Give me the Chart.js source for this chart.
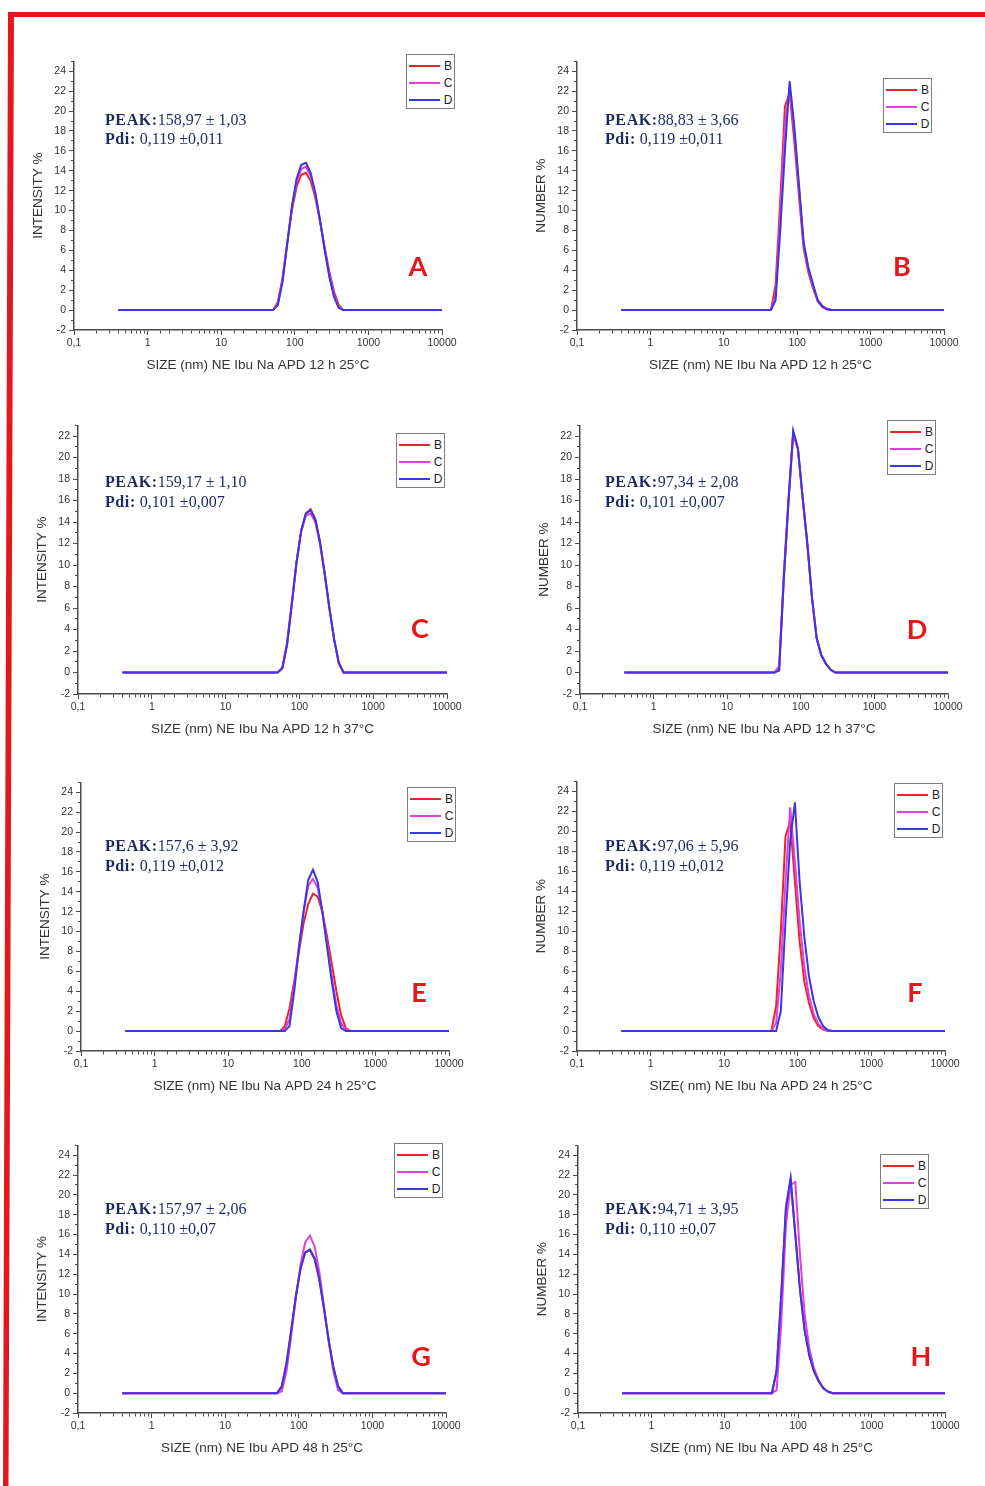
<!DOCTYPE html>
<html>
<head>
<meta charset="utf-8">
<script src="https://cdn.jsdelivr.net/npm/chart.js@4.4.0/dist/chart.umd.min.js"></script>
<style>
  html, body { margin:0; padding:0; background:#fff; }
  body { width:985px; height:1486px; position:relative; overflow:hidden; font-family:"Liberation Sans", Arial, sans-serif; }
  canvas { position:absolute; }
  .frame { position:absolute; left:0; top:0; }
  .peak { position:absolute; font-family:"Liberation Serif","Times New Roman",serif; color:#1a2a5e; font-size:16px; line-height:19.5px; white-space:nowrap; z-index:3; }
  .peak b { letter-spacing:0.6px; }
  .letter { position:absolute; color:#e5161c; font-family:Lato, "Open Sans", sans-serif; font-weight:700; font-size:27px; line-height:27px; transform:translate(-50%,-50%); z-index:3; }
  .legend { position:absolute; box-sizing:border-box; border:1.5px solid #7d7d7d; background:#fff; z-index:3; }
  .legend .ln { position:absolute; left:2px; width:31px; height:2px; }
  .legend .lb { position:absolute; left:35px; width:12px; text-align:center; font-size:12px; line-height:12px; color:#222; }
</style>
</head>
<body>
<svg class="frame" width="985" height="1486">
  <rect x="8" y="12" width="977" height="5" fill="#e3171e"/>
  <polygon points="8,12 14,12 8.5,1486 3,1486" fill="#e3171e"/>
</svg>
<script>
// ---------- data ----------
const sizes = [0.4, 43.82, 50.75, 58.77, 68.06, 78.82, 91.28, 105.7, 122.4, 141.8, 164.2, 190.1, 220.2, 255.0, 295.3, 342.0, 396.1, 458.7, 531.2, 10000];
const seriesNames = ['B', 'C', 'D'];
const xTickLabels = ['0,1', '1', '10', '100', '1000', '10000'];
const panelLetters = ['A', 'B', 'C', 'D', 'E', 'F', 'G', 'H'];

const A_B = [0,0,0,0.8,3.2,6.7,10.0,12.4,13.6,13.8,13.0,11.3,8.9,6.3,3.8,1.8,0.5,0,0,0];
const A_C = [0,0,0,0.6,3.0,6.7,10.3,12.9,14.2,14.4,13.5,11.6,9.0,6.1,3.5,1.5,0.3,0,0,0];
const A_D = [0,0,0,0.5,2.8,6.6,10.4,13.2,14.6,14.8,13.8,11.8,9.0,6.0,3.3,1.3,0.2,0,0,0];

const B_B = [0,0,2.5,11,20.5,21.8,17,11.5,6.2,3.8,2.2,0.9,0.3,0.05,0,0,0,0,0,0];
const B_C = [0,0,1.5,9.5,18.5,22.3,18,12.2,6.6,4.1,2.4,1.0,0.4,0.1,0,0,0,0,0,0];
const B_D = [0,0,1.0,8,16,23.0,18.5,12.6,6.8,4.3,2.6,1.0,0.4,0.1,0,0,0,0,0,0];

const C_B = [0,0,0,0.4,2.6,6.3,10.2,13.2,14.8,15.2,14.3,12.2,9.2,6.0,3.1,0.9,0,0,0,0];
const C_C = [0,0,0,0.5,2.8,6.5,10.3,13.1,14.6,14.8,14.0,12.0,9.1,6.0,3.1,0.9,0,0,0,0];
const C_D = [0,0,0,0.4,2.6,6.3,10.2,13.2,14.8,15.1,14.2,12.1,9.2,6.0,3.1,0.9,0,0,0,0];

const D_B = [0,0,0.2,8.6,15.8,22.2,20.8,16.3,12.0,7.0,3.2,1.6,0.8,0.25,0,0,0,0,0,0];
const D_C = [0,0,0.6,9.2,16.2,22.3,20.8,16.3,12.0,7.0,3.2,1.6,0.8,0.25,0,0,0,0,0,0];
const D_D = [0,0,0.2,8.8,16.0,22.5,20.9,16.4,12.1,7.0,3.2,1.6,0.8,0.25,0,0,0,0,0,0];

const E_B = [0,0,0,0.5,2.3,5.0,8.0,10.8,12.8,13.8,13.5,12.0,9.5,6.8,4.0,1.6,0.3,0,0,0];
const E_C = [0,0,0,0.2,1.2,4.5,8.5,12.0,14.6,15.3,14.4,12.0,8.8,5.5,2.6,0.8,0.1,0,0,0];
const E_D = [0,0,0,0,0.5,4.0,8.3,12.0,15.2,16.2,15.0,12.0,8.5,5.0,2.0,0.3,0,0,0,0];

const F_B = [0,0,2.5,10,19.5,21.0,15,9,5,2.8,1.3,0.5,0.15,0,0,0,0,0,0,0];
const F_C = [0,0,0.8,6,15,22.4,17,11,6.5,3.5,1.7,0.7,0.2,0,0,0,0,0,0,0];
const F_D = [0,0,0,2,11,19,22.9,15,9.5,5.5,3.0,1.4,0.5,0.1,0,0,0,0,0,0];

const G_B = [0,0,0,0.7,3.0,6.3,9.8,12.6,14.2,14.4,13.5,11.4,8.5,5.3,2.6,0.7,0,0,0,0];
const G_C = [0,0,0,0.2,2.2,5.8,9.6,13.0,15.2,15.9,14.8,12.2,8.8,5.2,2.2,0.3,0,0,0,0];
const G_D = [0,0,0,0.7,3.0,6.3,9.8,12.6,14.2,14.5,13.6,11.5,8.5,5.3,2.6,0.7,0,0,0,0];

const H_B = [0,0,2.2,9.8,18.6,21.5,16,10.5,6.3,3.8,2.2,1.2,0.5,0.15,0,0,0,0,0,0];
const H_C = [0,0,0.3,7,17,21.0,21.3,14,8,4.5,2.5,1.3,0.5,0.15,0,0,0,0,0,0];
const H_D = [0,0,2.3,10,18.8,21.7,16,10.5,6.3,3.8,2.2,1.2,0.5,0.15,0,0,0,0,0,0];

const panelSeries = [[A_B,A_C,A_D],[B_B,B_C,B_D],[C_B,C_C,C_D],[D_B,D_C,D_D],[E_B,E_C,E_D],[F_B,F_C,F_D],[G_B,G_C,G_D],[H_B,H_C,H_D]];
const yMaxes = [25, 25, 23, 23, 25, 25, 25, 25];
const yTitles = ['INTENSITY %','NUMBER %','INTENSITY %','NUMBER %','INTENSITY %','NUMBER %','INTENSITY %','NUMBER %'];
const xTitles = [
  'SIZE (nm) NE Ibu Na APD 12 h 25°C', 'SIZE (nm) NE Ibu Na APD 12 h 25°C',
  'SIZE (nm) NE Ibu Na APD 12 h 37°C', 'SIZE (nm) NE Ibu Na APD 12 h 37°C',
  'SIZE (nm) NE Ibu Na APD 24 h 25°C', 'SIZE( nm) NE Ibu Na APD 24 h 25°C',
  'SIZE (nm) NE Ibu APD 48 h 25°C', 'SIZE (nm) NE Ibu Na APD 48 h 25°C'
];
const peakValues = ['158,97 ± 1,03','88,83 ± 3,66','159,17 ± 1,10','97,34 ± 2,08','157,6 ± 3,92','97,06 ± 5,96','157,97 ± 2,06','94,71 ± 3,95'];
const pdiValues = ['0,119 ±0,011','0,119 ±0,011','0,101 ±0,007','0,101 ±0,007','0,119 ±0,012','0,119 ±0,012','0,110 ±0,07','0,110 ±0,07'];

// ---------- layout (page pixels) ----------
const plotBoxes = [
  {l:74, r:442, t:58, b:330}, {l:577, r:944, t:58, b:330},
  {l:78, r:447, t:422, b:694}, {l:580, r:948, t:422, b:694},
  {l:81, r:449, t:779, b:1051}, {l:577, r:945, t:778, b:1051},
  {l:78, r:446, t:1142, b:1413}, {l:578, r:945, t:1142, b:1413}
];
const legendPos = [{x:406,y:54},{x:883,y:78},{x:396,y:433},{x:887,y:420},{x:407,y:787},{x:894,y:783},{x:394,y:1143},{x:880,y:1154}];
const letterPos = [{x:418,y:265},{x:902,y:265},{x:420,y:627},{x:917,y:628},{x:419,y:991},{x:915,y:991},{x:421,y:1355},{x:921,y:1355}];
const textPos = [{x:105,y:119.5},{x:605,y:119.5},{x:105,y:482},{x:605,y:482},{x:105,y:846},{x:605,y:846},{x:105,y:1209},{x:605,y:1209}];
const lineColors = ['#e8262a', '#e040e0', '#3a36e2'];

Chart.defaults.font.family = '"Liberation Sans", Arial, sans-serif';

function isDecade(v) { const l = Math.log10(v); return Math.abs(l - Math.round(l)) < 1e-6; }

function makePanel(i) {
  const box = plotBoxes[i];
  const YW = 44, XH = 43, PT = 6, PR = 24;
  const cw = YW + (box.r - box.l) + PR;
  const ch = PT + (box.b - box.t) + XH;
  const cv = document.createElement('canvas');
  cv.width = cw; cv.height = ch;
  cv.style.width = cw + 'px'; cv.style.height = ch + 'px';
  cv.style.left = (box.l - YW) + 'px';
  cv.style.top = (box.t - PT) + 'px';
  document.body.appendChild(cv);

  const datasets = seriesNames.map((name, k) => ({
    label: name,
    data: sizes.map((s, j) => ({x: s, y: panelSeries[i][k][j]})),
    borderColor: lineColors[k],
    backgroundColor: lineColors[k],
    borderWidth: 2,
    pointRadius: 0,
    tension: 0,
    order: 3 - k
  }));

  new Chart(cv, {
    type: 'line',
    data: { datasets },
    options: {
      responsive: false,
      animation: false,
      devicePixelRatio: 1,
      layout: { padding: { left: 0, top: PT, right: PR, bottom: 0 } },
      plugins: { legend: { display: false }, tooltip: { enabled: false } },
      scales: {
        x: {
          type: 'logarithmic', min: 0.1, max: 10000,
          afterFit(s) { s.height = XH; },
          border: { display: true, color: '#4a4a4a', width: 1.5 },
          grid: {
            drawOnChartArea: false, tickLength: 5, tickColor: '#4a4a4a', tickWidth: 1,
            tickBorderDash: ctx => (ctx.tick && isDecade(ctx.tick.value)) ? [] : [3, 50]
          },
          ticks: {
            autoSkip: false, maxRotation: 0, minRotation: 0, padding: 2,
            color: '#333', font: { size: 10.5 },
            callback: (v) => isDecade(v) ? xTickLabels[Math.round(Math.log10(v)) + 1] : ''
          },
          title: { display: true, text: xTitles[i], padding: 0, color: '#333', font: { size: 13.5 } }
        },
        y: {
          min: -2, max: yMaxes[i],
          afterFit(s) { s.width = YW; },
          border: { display: true, color: '#4a4a4a', width: 1.5 },
          grid: {
            drawOnChartArea: false, tickLength: 5, tickColor: '#4a4a4a', tickWidth: 1,
            tickBorderDash: ctx => (ctx.tick && ctx.tick.value % 2 === 0) ? [] : [0, 2, 3, 50]
          },
          ticks: {
            stepSize: 1, autoSkip: false, padding: 3, color: '#333', font: { size: 10.5 },
            callback: (v) => (v % 2 === 0) ? String(v) : ''
          },
          title: { display: true, text: yTitles[i], padding: 0, color: '#333', font: { size: 13.5 } }
        }
      }
    }
  });

  // legend
  const lg = document.createElement('div');
  lg.className = 'legend';
  lg.style.left = legendPos[i].x + 'px'; lg.style.top = legendPos[i].y + 'px';
  lg.style.width = '49px'; lg.style.height = '55px';
  seriesNames.forEach((n, k) => {
    const ln = document.createElement('div');
    ln.className = 'ln'; ln.style.top = (9.5 + 17 * k) + 'px'; ln.style.background = lineColors[k];
    const lb = document.createElement('div');
    lb.className = 'lb'; lb.style.top = (4.5 + 17 * k) + 'px'; lb.textContent = n;
    lg.appendChild(ln); lg.appendChild(lb);
  });
  document.body.appendChild(lg);

  // peak text
  const pk = document.createElement('div');
  pk.className = 'peak';
  pk.style.left = textPos[i].x + 'px'; pk.style.top = (textPos[i].y - 9.75) + 'px';
  pk.innerHTML = '<b>PEAK:</b>' + peakValues[i] + '<br><b>Pdi:</b> ' + pdiValues[i];
  document.body.appendChild(pk);

  // panel letter
  const lt = document.createElement('div');
  lt.className = 'letter';
  lt.style.left = letterPos[i].x + 'px'; lt.style.top = letterPos[i].y + 'px';
  lt.textContent = panelLetters[i];
  document.body.appendChild(lt);
}

for (let i = 0; i < 8; i++) makePanel(i);
</script>
</body>
</html>
